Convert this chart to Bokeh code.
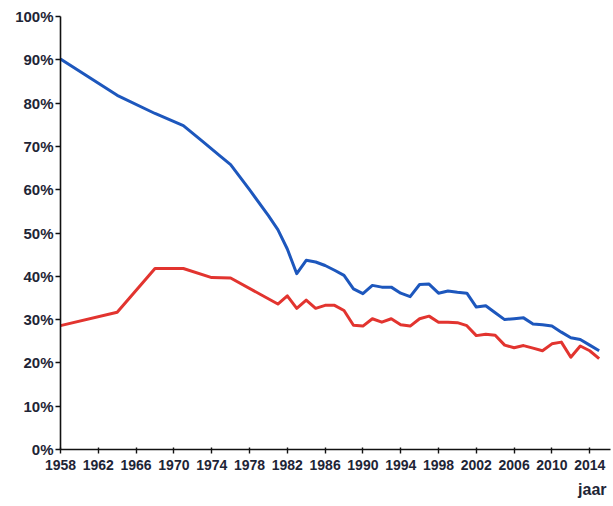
from bokeh.plotting import figure
from bokeh.models import Range1d, FixedTicker, PrintfTickFormatter, Title
from bokeh.embed import file_html
from bokeh.resources import INLINE

# ---- data ----
blue_years = [1958, 1964, 1968, 1971, 1973, 1975, 1976, 1978, 1980, 1981, 1982,
              1983, 1984, 1985, 1986, 1987, 1988, 1989, 1990, 1991, 1992, 1993,
              1994, 1995, 1996, 1997, 1998, 1999, 2000, 2001, 2002, 2003, 2004,
              2005, 2006, 2007, 2008, 2009, 2010, 2011, 2012, 2013, 2014, 2015]
blue_values = [90.2, 81.8, 77.6, 74.8, 71.2, 67.6, 65.8, 60.0, 54.0, 50.8, 46.3,
               40.6, 43.7, 43.3, 42.5, 41.4, 40.2, 37.1, 36.0, 37.9, 37.5, 37.5,
               36.1, 35.3, 38.1, 38.2, 36.1, 36.6, 36.3, 36.1, 32.9, 33.2, 31.6,
               30.0, 30.2, 30.4, 29.0, 28.8, 28.5, 27.1, 25.8, 25.4, 24.1, 22.8]

red_years = [1958, 1964, 1968, 1971, 1974, 1976, 1981, 1982, 1983, 1984, 1985,
             1986, 1987, 1988, 1989, 1990, 1991, 1992, 1993, 1994, 1995, 1996,
             1997, 1998, 1999, 2000, 2001, 2002, 2003, 2004, 2005, 2006, 2007,
             2008, 2009, 2010, 2011, 2012, 2013, 2014, 2015]
red_values = [28.6, 31.7, 41.8, 41.8, 39.7, 39.6, 33.6, 35.5, 32.6, 34.5, 32.6,
              33.3, 33.3, 32.1, 28.7, 28.5, 30.2, 29.4, 30.2, 28.8, 28.5, 30.2,
              30.8, 29.4, 29.4, 29.3, 28.6, 26.3, 26.6, 26.4, 24.1, 23.5, 24.0,
              23.4, 22.8, 24.4, 24.8, 21.3, 23.9, 22.8, 21.0]

x_ticks = list(range(1958, 2015, 4))
y_ticks = list(range(0, 101, 10))
x_label = "jaar"

FONT = "Liberation Sans"
TXT = "#1e2536"

p = figure(width=611, height=504, output_backend="svg", toolbar_location=None,
           x_range=Range1d(1958, 2016.2), y_range=Range1d(0, 100),
           min_border_left=60, min_border_right=1, min_border_top=16,
           min_border_bottom=54)
p.outline_line_color = None
p.xgrid.visible = False
p.ygrid.visible = False
p.background_fill_color = "white"

p.line(blue_years, blue_values, line_color="#1d57bd", line_width=3,
       line_join="round")
p.line(red_years, red_values, line_color="#e2342f", line_width=3,
       line_join="round")

for ax in (p.xaxis[0], p.yaxis[0]):
    ax.axis_line_color = "#111111"
    ax.axis_line_width = 1.6
    ax.major_tick_line_color = "#111111"
    ax.major_tick_line_width = 1.4
    ax.minor_tick_line_color = None
    ax.major_label_text_font = FONT
    ax.major_label_text_font_style = "bold"
    ax.major_label_text_color = TXT

p.xaxis.major_label_text_font_size = "14px"
p.yaxis.major_label_text_font_size = "15px"

p.xaxis.ticker = FixedTicker(ticks=x_ticks)
p.xaxis.formatter = PrintfTickFormatter(format="%d")
p.xaxis.major_tick_out = 4
p.xaxis.major_tick_in = 2
p.xaxis.major_label_standoff = 6

p.yaxis.ticker = FixedTicker(ticks=y_ticks)
p.yaxis.formatter = PrintfTickFormatter(format="%d%%")
p.yaxis.major_tick_out = 5
p.yaxis.major_tick_in = 0
p.yaxis.major_label_standoff = 2

p.add_layout(Title(text=x_label, align="right", standoff=13, offset=4,
                   text_font=FONT, text_font_style="bold",
                   text_font_size="16px", text_color=TXT), "below")

open("out.html", "w").write(file_html(p, INLINE))
